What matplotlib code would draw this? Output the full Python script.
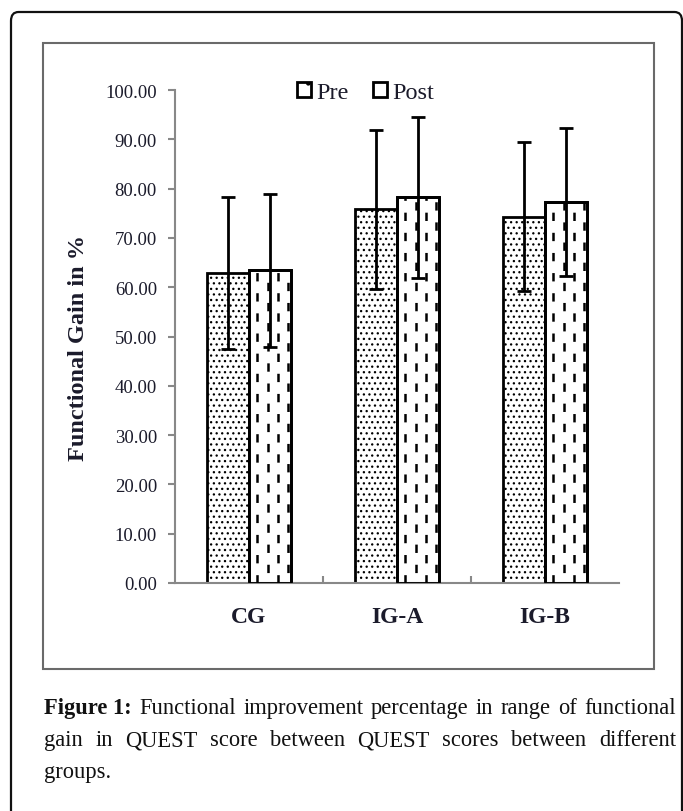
import matplotlib
matplotlib.use("Agg")
import matplotlib.pyplot as plt
import numpy as np
from matplotlib.patches import FancyBboxPatch, Rectangle, Patch

# data
groups = ["CG", "IG-A", "IG-B"]
pre_mean = [62.8, 75.8, 74.3]
pre_sd = [15.4, 16.1, 15.1]
post_mean = [63.4, 78.2, 77.3]
post_sd = [15.6, 16.3, 15.0]
y_ticks = [0, 10, 20, 30, 40, 50, 60, 70, 80, 90, 100]
caption_lines = [
    "Functional improvement percentage in range of functional",
    "gain in QUEST score between QUEST scores between different",
    "groups.",
]

W, H, DPI = 683, 812, 100
SERIF = ["Liberation Serif", "DejaVu Serif"]
TXT = "#1b1b2b"

plt.rcParams["hatch.linewidth"] = 0.9
plt.rcParams["lines.scale_dashes"] = False

fig = plt.figure(figsize=(W / DPI, H / DPI), dpi=DPI)


def fx(px):
    return px / W


def fy(py):
    return 1 - py / H


# outer rounded frame (runs off the right/bottom edge)
fig.patches.append(FancyBboxPatch((fx(11), fy(830)), fx(671), fy(13) - fy(830),
                                  boxstyle="round,pad=0,rounding_size=0.011",
                                  transform=fig.transFigure, fill=False,
                                  lw=1.6, ec="#111111"))
# inner chart frame
fig.patches.append(Rectangle((fx(43), fy(670)), fx(654 - 43), fy(44) - fy(670),
                             transform=fig.transFigure, fill=False,
                             lw=1.5, ec="#6a6a6a"))

ax = fig.add_axes([fx(175), fy(584), fx(444), fy(91) - fy(584)])
x = np.arange(len(groups))
w = 0.284

pre_bars = ax.bar(x - w / 2, pre_mean, w, facecolor="white", edgecolor="black",
                  lw=2, hatch="...", zorder=2)
post_bars = ax.bar(x + w / 2, post_mean, w, facecolor="white", edgecolor="black",
                   lw=2, zorder=2)

# dashed vertical hatching inside the post bars
for bar in post_bars:
    x0, bw, h = bar.get_x(), bar.get_width(), bar.get_height()
    for k, frac in enumerate([0.2, 0.45, 0.7, 0.93]):
        off = 0 if k % 2 == 0 else 7
        ax.vlines(x0 + frac * bw, 0, h, colors="black", lw=1.8,
                  linestyles=[(off, (6, 8.5))], zorder=3)
    ax.add_patch(Rectangle((x0, 0), bw, h, fill=False, ec="black", lw=2, zorder=4))

ax.errorbar(x - w / 2, pre_mean, yerr=pre_sd, fmt="none", ecolor="black",
            elinewidth=2, capsize=5, capthick=2, zorder=5)
ax.errorbar(x + w / 2, post_mean, yerr=post_sd, fmt="none", ecolor="black",
            elinewidth=2, capsize=5, capthick=2, zorder=5)

ax.set_xlim(-0.5, 2.5)
ax.set_ylim(0, 100)
ax.set_yticks(y_ticks)
ax.set_yticklabels([f"{v:.2f}" for v in y_ticks], family=SERIF, fontsize=13.5,
                   color=TXT)
ax.set_xticks([0.5, 1.5])
ax.set_xticklabels([])
ax.tick_params(axis="y", length=5, width=1.5, color="#888888", pad=8)
ax.tick_params(axis="x", length=5, width=1.5, color="#888888", direction="in")
for i, g in enumerate(groups):
    ax.text(i, -6.8, g, ha="center", va="center", family=SERIF, fontsize=17,
            fontweight="bold", color=TXT)
for s in ["top", "right"]:
    ax.spines[s].set_visible(False)
for s in ["left", "bottom"]:
    ax.spines[s].set_color("#888888")
    ax.spines[s].set_linewidth(1.5)

fig.text(fx(79), fy(348), "Functional Gain in %", rotation=90, ha="center",
         va="center", family=SERIF, fontsize=17.5, fontweight="bold", color=TXT)

handles = [Patch(facecolor="white", edgecolor="black", lw=2, hatch="."),
           Patch(facecolor="white", edgecolor="black", lw=2)]
ax.legend(handles, ["Pre", "Post"], loc="center", bbox_to_anchor=(0.43, 0.995),
          ncol=2, frameon=False, prop={"family": SERIF, "size": 17.5},
          handlelength=0.55, handleheight=0.55, handletextpad=0.25,
          columnspacing=1.0, labelcolor=TXT)

# caption, justified by hand
fig.canvas.draw()
renderer = fig.canvas.get_renderer()
left, right = 44, 676

probe = fig.text(0, 0, "Figure 1: " + caption_lines[0], family=SERIF, fontsize=10)
probe_w = probe.get_window_extent(renderer).width
probe.remove()
cap_size = 10 * (right - left) / probe_w * 0.97


def justify(words, y, bold_first=None):
    items = []
    if bold_first:
        items.append((bold_first, "bold"))
    items += [(wd, "normal") for wd in words]
    texts = []
    widths = []
    for s, weight in items:
        t = fig.text(0, fy(y), s, family=SERIF, fontsize=cap_size, fontweight=weight,
                     va="center", ha="left", color="#111111")
        texts.append(t)
        widths.append(t.get_window_extent(renderer).width)
    gap = (right - left - sum(widths)) / (len(items) - 1)
    pos = left
    for t, wd in zip(texts, widths):
        t.set_x(fx(pos))
        pos += wd + gap


justify(caption_lines[0].split(), 709, bold_first="Figure 1:")
justify(caption_lines[1].split(), 741)
fig.text(fx(left), fy(773), caption_lines[2], family=SERIF, fontsize=cap_size,
         va="center", ha="left", color="#111111")

fig.savefig("out.png", dpi=DPI)
